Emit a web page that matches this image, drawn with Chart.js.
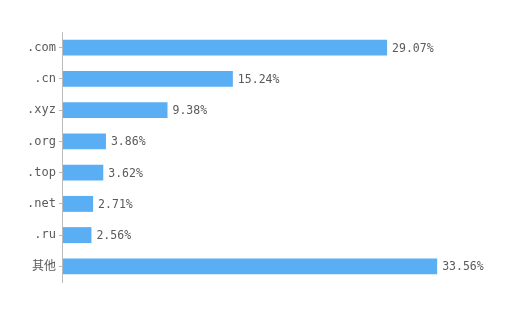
<!DOCTYPE html>
<html>
<head>
<meta charset="utf-8">
<script src="https://cdn.jsdelivr.net/npm/chart.js@4"></script>
<style>
  html, body { margin: 0; padding: 0; background: #fff; }
  #wrap { width: 521px; height: 314px; }
</style>
</head>
<body>
<div id="wrap"><canvas id="domainChart"></canvas></div>
<script>
// data
const categories = ['.com', '.cn', '.xyz', '.org', '.top', '.net', '.ru', '其他'];
const shares = [29.07, 15.24, 9.38, 3.86, 3.62, 2.71, 2.56, 33.56];

const FONT = "'DejaVu Sans Mono', 'Noto Sans CJK SC', monospace";

// value labels at the end of each bar
const valueLabels = {
    id: 'valueLabels',
    afterDatasetsDraw(chart) {
        const ctx = chart.ctx;
        const meta = chart.getDatasetMeta(0);
        ctx.save();
        ctx.font = '11.5px ' + FONT;
        ctx.fillStyle = '#5a5a5a';
        ctx.textAlign = 'left';
        ctx.textBaseline = 'middle';
        meta.data.forEach((bar, i) => {
            ctx.fillText(shares[i].toFixed(2) + '%', bar.x + 5, bar.y + 1);
        });
        ctx.restore();
    }
};

new Chart(document.getElementById('domainChart'), {
    type: 'bar',
    data: {
        labels: categories,
        datasets: [{
            data: shares,
            backgroundColor: '#5AAEF4',
            borderWidth: 0,
            barPercentage: 0.51,
            categoryPercentage: 1
        }]
    },
    options: {
        indexAxis: 'y',
        responsive: true,
        maintainAspectRatio: false,
        animation: false,
        layout: { padding: { top: 32, bottom: 32, left: 24, right: 12 } },
        plugins: { legend: { display: false }, tooltip: { enabled: false } },
        scales: {
            x: { display: false, min: 0, max: 40 },
            y: {
                grid: { offset: false, drawOnChartArea: false, tickLength: 4, color: '#bbb' },
                border: { color: '#bbb' },
                ticks: { color: '#5a5a5a', padding: 3, font: { family: FONT, size: 12 } }
            }
        }
    },
    plugins: [valueLabels]
});
</script>
</body>
</html>
